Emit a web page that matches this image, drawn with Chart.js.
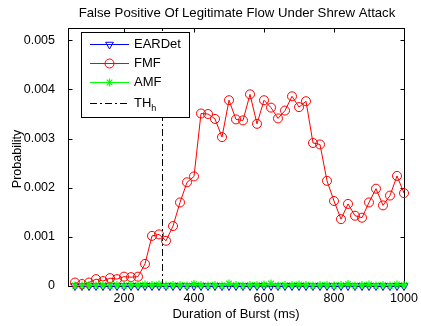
<!DOCTYPE html>
<html>
<head>
<meta charset="utf-8">
<script src="https://cdn.jsdelivr.net/npm/chart.js@4.4.0/dist/chart.umd.min.js"></script>
<style>
html,body{margin:0;padding:0;background:#fff;}
canvas{display:block;}
</style>
</head>
<body>
<canvas id="c" width="421" height="326"></canvas>
<script>
// ---- data ----
const chartTitle = "False Positive Of Legitimate Flow Under Shrew Attack";
const xTitle = "Duration of Burst (ms)";
const yTitle = "Probability";
const burstDurations = [60,80,100,120,140,160,180,200,220,240,260,280,300,320,340,360,380,400,420,440,460,480,500,520,540,560,580,600,620,640,660,680,700,720,740,760,780,800,820,840,860,880,900,920,940,960,980,1000];
const eardetValues = [0,0,0,0,0,0,0,0,0,0,0,0,0,0,0,0,0,0,0,0,0,0,0,0,0,0,0,0,0,0,0,0,0,0,0,0,0,0,0,0,0,0,0,0,0,0,0,0];
const fmfValues = [0.00007,0.00004,0.00007,0.00014,0.00010,0.00016,0.00014,0.00019,0.00018,0.00019,0.00045,0.00102,0.00105,0.00092,0.00122,0.00170,0.00211,0.00223,0.00351,0.00350,0.00340,0.00303,0.00378,0.00339,0.00337,0.00390,0.00330,0.00378,0.00363,0.00341,0.00357,0.00386,0.00364,0.00376,0.00291,0.00288,0.00214,0.00173,0.00136,0.00167,0.00143,0.00139,0.00170,0.00198,0.00164,0.00184,0.00224,0.00189];
const amfValues = [0.00001,0.00001,0.00002,0.00001,0.00002,0.00001,0.00002,0.00001,0.00002,0.00002,0.00003,0.00002,0.00003,0.00001,0.00002,0.00002,0.00001,0.00004,0.00002,0.00001,0.00002,0.00001,0.00005,0.00002,0.00001,0.00002,0.00002,0.00003,0.00005,0.00001,0.00002,0.00002,0.00003,0.00002,0.00001,0.00002,0.00002,0.00001,0.00002,0.00004,0.00001,0.00002,0.00003,0.00001,0.00002,0.00001,0.00003,0.00002];
const thresholdX = 310;
const xTicks = [200,400,600,800,1000];
const xTickLabels = ["200","400","600","800","1000"];
const yTicks = [0,0.001,0.002,0.003,0.004,0.005];
const yTickLabels = ["0","0.001","0.002","0.003","0.004","0.005"];
const xMin = 40, xMax = 1000, yMin = 0, yMax = 0.00525;

const FONT = "'Liberation Sans', Arial, Helvetica, sans-serif";

function pts(vals){ return burstDurations.map((x,i)=>({x:x, y:vals[i]})); }

const datasets = [
  {label:"EARDet", data:pts(eardetValues), borderColor:"#0000ff", backgroundColor:"rgba(0,0,0,0)",
   borderWidth:1, pointStyle:"triangle", rotation:180, pointRadius:4.5, pointBorderWidth:1,
   pointBackgroundColor:"rgba(0,0,0,0)", pointBorderColor:"#0000ff", order:2, clip:false},
  {label:"FMF", data:pts(fmfValues), borderColor:"#ff0000", backgroundColor:"rgba(0,0,0,0)",
   borderWidth:1, pointStyle:"circle", pointRadius:4.5, pointBorderWidth:1,
   pointBackgroundColor:"rgba(0,0,0,0)", pointBorderColor:"#ff0000", order:1, clip:false},
  {label:"AMF", data:pts(amfValues), borderColor:"#00ff00", backgroundColor:"rgba(0,0,0,0)",
   borderWidth:1, pointStyle:"star", pointRadius:4, pointBorderWidth:1.2,
   pointBackgroundColor:"rgba(0,0,0,0)", pointBorderColor:"#00ff00", order:0, clip:false},
  {label:"TH", sub:"h", data:[{x:thresholdX,y:yMin},{x:thresholdX,y:yMax}], borderColor:"#000000",
   backgroundColor:"rgba(0,0,0,0)", borderWidth:1, borderDash:[7,3,2,3], pointRadius:0, order:3}
];

const framePlugin = {
  id:"frame",
  beforeDraw(chart){
    const ctx = chart.ctx;
    ctx.save(); ctx.fillStyle="#fff"; ctx.fillRect(0,0,chart.width,chart.height); ctx.restore();
  },
  beforeDatasetsDraw(chart){
    const ctx = chart.ctx, a = chart.chartArea;
    const xs = chart.scales.x, ys = chart.scales.y;
    ctx.save();
    ctx.strokeStyle="#000"; ctx.lineWidth=1;
    const L=Math.round(a.left)+0.5, R=Math.round(a.right)+0.5, T=Math.round(a.top)+0.5, B=Math.round(a.bottom)+0.5;
    ctx.strokeRect(L,T,R-L,B-T);
    ctx.beginPath();
    const tl=4;
    xTicks.forEach(v=>{
      const px=Math.round(xs.getPixelForValue(v))+0.5;
      ctx.moveTo(px,B); ctx.lineTo(px,B-tl);
      ctx.moveTo(px,T); ctx.lineTo(px,T+tl);
    });
    yTicks.forEach(v=>{
      const py=Math.round(ys.getPixelForValue(v))+0.5;
      ctx.moveTo(L,py); ctx.lineTo(L+tl,py);
      ctx.moveTo(R,py); ctx.lineTo(R-tl,py);
    });
    ctx.stroke();
    ctx.restore();
  },
  afterDatasetsDraw(chart){
    const ctx = chart.ctx, a = chart.chartArea;
    ctx.save();
    // legend box
    const bx=81.5, by=32.5, bw=108, bh=85;
    ctx.fillStyle="#fff"; ctx.fillRect(bx,by,bw,bh);
    ctx.strokeStyle="#000"; ctx.lineWidth=1; ctx.strokeRect(bx,by,bw,bh);
    const rowY=[44.5,63.5,82.5,103.5];
    const lx0=90, lx1=129, tx=134;
    chart.data.datasets.forEach((ds,i)=>{
      const y=rowY[i];
      ctx.save();
      ctx.strokeStyle=ds.borderColor; ctx.lineWidth=ds.borderWidth;
      ctx.setLineDash(ds.borderDash||[]);
      ctx.beginPath(); ctx.moveTo(lx0,y); ctx.lineTo(lx1,y); ctx.stroke();
      ctx.setLineDash([]);
      if(ds.pointRadius>0){
        ctx.strokeStyle=ds.pointBorderColor; ctx.fillStyle=ds.pointBackgroundColor;
        ctx.lineWidth=ds.pointBorderWidth;
        Chart.helpers.drawPoint(ctx,{pointStyle:ds.pointStyle,rotation:ds.rotation||0,radius:ds.pointRadius,borderWidth:ds.pointBorderWidth},(lx0+lx1)/2,y);
      }
      ctx.restore();
      ctx.fillStyle="#000"; ctx.font="13px "+FONT; ctx.textBaseline="middle"; ctx.textAlign="left";
      ctx.fillText(ds.label,tx,y-0.5);
      if(ds.sub){
        const w=ctx.measureText(ds.label).width;
        ctx.font="9px "+FONT;
        ctx.fillText(ds.sub,tx+w,y+5);
      }
    });
    // titles
    ctx.fillStyle="#000"; ctx.textAlign="center"; ctx.textBaseline="middle";
    ctx.font="13.2px "+FONT;
    ctx.fillText(chartTitle,(a.left+a.right)/2+1,13);
    ctx.font="13px "+FONT;
    ctx.fillText(xTitle,(a.left+a.right)/2,314.5);
    ctx.font="12.5px "+FONT;
    ctx.save();
    ctx.translate(18,(a.top+a.bottom)/2+2);
    ctx.rotate(-Math.PI/2);
    ctx.fillText(yTitle,0,0);
    ctx.restore();
    ctx.restore();
  }
};

new Chart(document.getElementById("c"),{
  type:"line",
  data:{datasets:datasets},
  options:{
    responsive:false, animation:false, devicePixelRatio:1,
    layout:{padding:{top:28,right:17,left:0,bottom:0}},
    plugins:{legend:{display:false},title:{display:false},tooltip:{enabled:false}},
    elements:{line:{tension:0}},
    scales:{
      x:{type:"linear",min:xMin,max:xMax,
        afterBuildTicks:s=>{s.ticks=xTicks.map(v=>({value:v}));},
        afterFit:s=>{s.height=40;},
        grid:{display:false}, border:{display:false},
        ticks:{autoSkip:false,maxRotation:0,padding:-3,color:"#000",font:{family:FONT,size:12.5},
          callback:(v)=>{const i=xTicks.indexOf(v);return i>=0?xTickLabels[i]:"";}}},
      y:{type:"linear",min:yMin,max:yMax,
        afterBuildTicks:s=>{s.ticks=yTicks.map(v=>({value:v}));},
        afterFit:s=>{s.width=68;},
        grid:{display:false}, border:{display:false},
        ticks:{autoSkip:false,padding:5,color:"#000",font:{family:FONT,size:12.5},
          callback:(v)=>{const i=yTicks.indexOf(v);return i>=0?yTickLabels[i]:"";}}}
    }
  },
  plugins:[framePlugin]
});
</script>
</body>
</html>
